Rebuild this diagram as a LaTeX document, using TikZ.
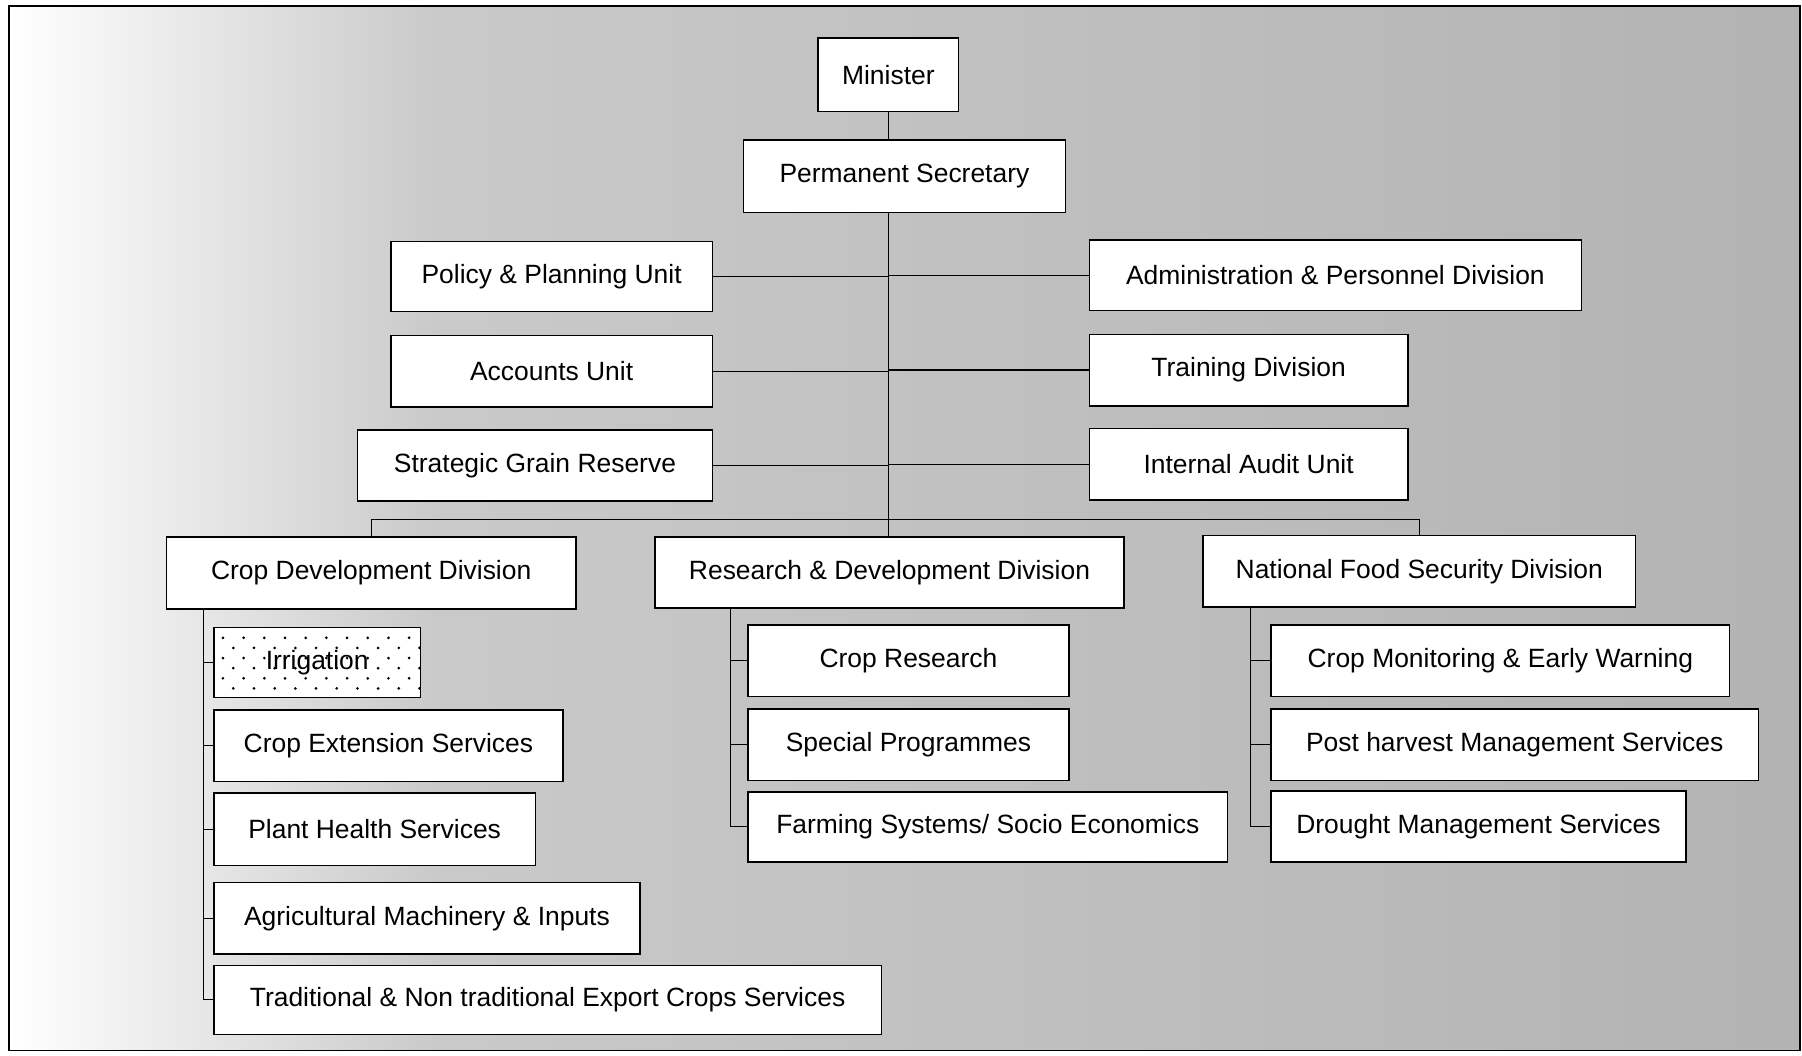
\documentclass[tikz,border=0pt]{standalone}
\usepackage{fontspec}
\setmainfont{Liberation Sans}
\tikzset{
  box/.style={draw, line width=0.7pt, fill=white, inner sep=0pt,
    font=\fontsize{11.5}{13}\selectfont},
  conn/.style={line width=0.5pt},
  dotted box/.style={box, path picture={
    \foreach \r in {0,...,5}{
      \foreach \c in {0,...,9}{
        \pgfmathsetmacro\xo{(\c*18+mod(\r,2)*9+8)*0.5}
        \pgfmathsetmacro\yo{(\r*8.8+9)*0.5}
        \fill[black] ([xshift=\xo pt, yshift=-\yo pt]path picture bounding box.north west) circle (0.65pt);
      }
    }
  }}
}
% \orgbox[style]{name}{x1}{y1}{x2}{y2}{text}
\newcommand\orgbox[7][box]{%
  \node (#2) [#1, minimum width={(#5-#3)*0.5pt}, minimum height={(#6-#4)*0.5pt}]
    at ({(#3+#5)/2},{(#4+#6)/2}) {#7};}
\begin{document}
\begin{tikzpicture}[x=0.5pt,y=-0.5pt]
\useasboundingbox (0,0) rectangle (1568,918);
% background
\shade[left color=white, right color=gray!42] (8,5) rectangle (380,914);
\shade[left color=gray!42, right color=gray!60] (380,5) rectangle (1566,914);
\draw[line width=0.8pt] (8,5) rectangle (1566,914);

% top
\orgbox{min}{712}{33}{834}{97}{Minister}
\orgbox{ps}{647}{122}{927}{185}{Permanent Secretary}
% side units
\orgbox{pol}{340}{210}{620}{271}{Policy \& Planning Unit}
\orgbox{acc}{340}{292}{620}{354}{Accounts Unit}
\orgbox{sgr}{311}{374}{620}{436}{Strategic Grain Reserve}
\orgbox{adm}{948}{209}{1376}{270}{Administration \& Personnel Division}
\orgbox{trn}{948}{291}{1225}{353}{Training Division}
\orgbox{aud}{948}{373}{1225}{435}{Internal Audit Unit}
% divisions
\orgbox{cdd}{145}{467}{501}{530}{Crop Development Division}
\orgbox{rd}{570}{467}{978}{529}{Research \& Development Division}
\orgbox{nfs}{1047}{466}{1423}{528}{National Food Security Division}
% crop development
\orgbox[dotted box]{irr}{186}{546}{366}{607}{Irrigation}
\orgbox{ces}{186}{618}{490}{680}{Crop Extension Services}
\orgbox{phs}{186}{690}{466}{753}{Plant Health Services}
\orgbox{ami}{186}{768}{557}{830}{Agricultural Machinery \& Inputs}
\orgbox{tne}{186}{840}{767}{900}{Traditional \& Non traditional Export Crops Services}
% research
\orgbox{cr}{651}{544}{930}{606}{Crop Research}
\orgbox{sp}{651}{617}{930}{679}{Special Programmes}
\orgbox{fs}{651}{689}{1068}{750}{Farming Systems/ Socio Economics}
% food security
\orgbox{cm}{1106}{544}{1505}{606}{Crop Monitoring \& Early Warning}
\orgbox{ph}{1106}{617}{1530}{679}{Post harvest Management Services}
\orgbox{dm}{1106}{688}{1467}{750}{Drought Management Services}

% connectors
\draw[conn] (min.south) -- (min.south |- ps.north);
\draw[conn] (min.south |- ps.south) -- (min.south |- rd.north);
\foreach \n in {pol,acc,sgr}{\draw[conn] (\n.east) -- (\n.east -| min.south);}
\foreach \n in {adm,trn,aud}{\draw[conn] (\n.west) -- (\n.west -| min.south);}
\coordinate (bar) at (773,452);
\draw[conn] (cdd.north) |- (bar) -| (nfs.north);
\path (cdd.south west) ++(33,0) coordinate (cddv);
\foreach \n in {irr,ces,phs,ami,tne}{\draw[conn] (cddv) |- (\n.west);}
\path (rd.south west) ++(66,0) coordinate (rdv);
\foreach \n in {cr,sp,fs}{\draw[conn] (rdv) |- (\n.west);}
\path (nfs.south west) ++(42,0) coordinate (nfsv);
\foreach \n in {cm,ph,dm}{\draw[conn] (nfsv) |- (\n.west);}
\end{tikzpicture}
\end{document}
